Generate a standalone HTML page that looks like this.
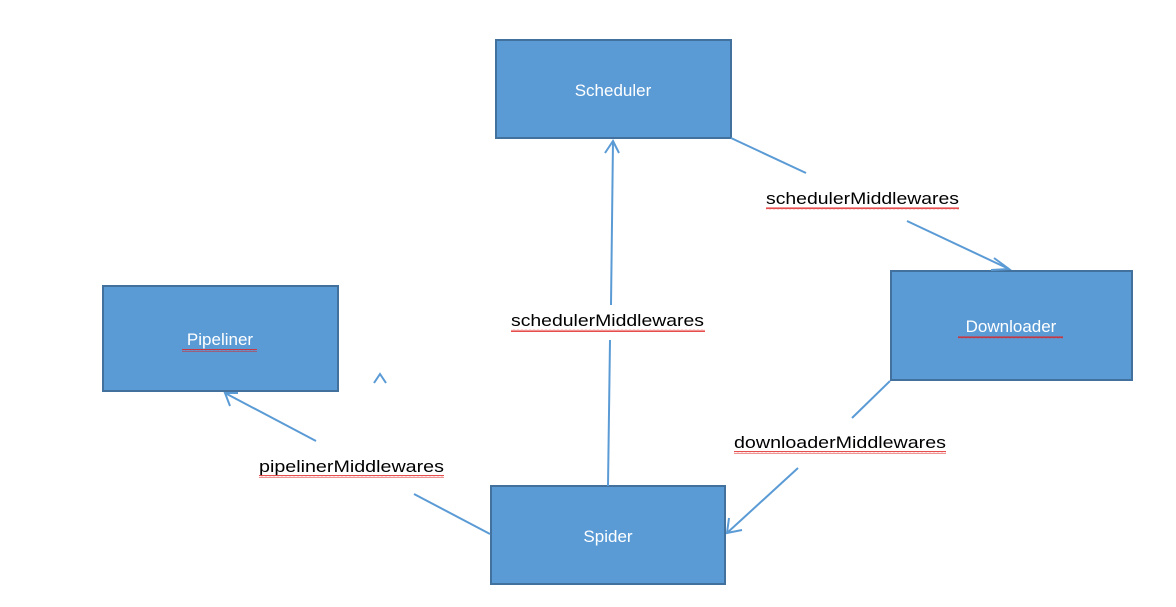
<!DOCTYPE html>
<html><head><meta charset="utf-8"><style>
html,body{margin:0;padding:0;background:#fff;}
svg{display:block;}
text{font-family:"Liberation Sans",sans-serif;font-size:17px;}
</style></head><body>
<svg width="1176" height="607" viewBox="0 0 1176 607" xmlns="http://www.w3.org/2000/svg">
<defs>
<pattern id="wv" width="4" height="3" patternUnits="userSpaceOnUse">
<path d="M0 2 L1 0.5 L2 2 L3 0.5 L4 2" fill="none" stroke="#e02020" stroke-width="0.8"/>
</pattern>
</defs>
<g fill="#5b9bd5" stroke="#41719c" stroke-width="2">
<rect x="496" y="40" width="235" height="98"/>
<rect x="103" y="286" width="235" height="105"/>
<rect x="891" y="271" width="241" height="109"/>
<rect x="491" y="486" width="234" height="98"/>
</g>
<g fill="#fff" text-anchor="middle">
<text x="613" y="96">Scheduler</text>
<text x="220" y="345">Pipeliner</text>
<text x="1011" y="332">Downloader</text>
<text x="608" y="542">Spider</text>
</g>
<g stroke="#5b9bd5" stroke-width="2" fill="none">
<line x1="731" y1="138" x2="806" y2="173"/>
<line x1="907" y1="221" x2="1009" y2="269"/>
<polyline points="994,258 1009,269 991,270"/>
<line x1="608" y1="486" x2="610" y2="340"/>
<line x1="611" y1="305" x2="613" y2="141"/>
<polyline points="605,153 613,141 619,153"/>
<line x1="490" y1="534" x2="414" y2="494"/>
<line x1="316" y1="441" x2="225" y2="393"/>
<polyline points="230,406 225,393 238,393"/>
<line x1="890" y1="381" x2="852" y2="418"/>
<line x1="798" y1="468" x2="727" y2="533"/>
<polyline points="729,518 727,533 742,530"/>
<polyline points="374,383 380,374 386,383"/>
</g>
<g fill="#000">
<text x="766" y="204" textLength="193" lengthAdjust="spacingAndGlyphs">schedulerMiddlewares</text>
<text x="511" y="326" textLength="193" lengthAdjust="spacingAndGlyphs">schedulerMiddlewares</text>
<text x="734" y="448" textLength="212" lengthAdjust="spacingAndGlyphs">downloaderMiddlewares</text>
<text x="259" y="472" textLength="185" lengthAdjust="spacingAndGlyphs">pipelinerMiddlewares</text>
</g>
<g fill="url(#wv)">
<rect x="766" y="207" width="193" height="3"/>
<rect x="511" y="329" width="194" height="3"/>
<rect x="734" y="451" width="212" height="3"/>
<rect x="259" y="475" width="185" height="3"/>
<rect x="958" y="336" width="105" height="3"/>
<rect x="182" y="349" width="75" height="3"/>
</g>
</svg>
</body></html>
